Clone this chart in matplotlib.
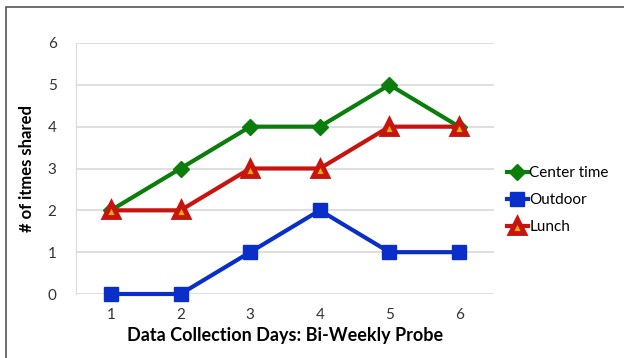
import matplotlib.pyplot as plt
from matplotlib.patches import Rectangle

days = [1, 2, 3, 4, 5, 6]
center_time = [2, 3, 4, 4, 5, 4]
outdoor = [0, 0, 1, 2, 1, 1]
lunch = [2, 2, 3, 3, 4, 4]

plt.rcParams['font.family'] = ['Lato', 'DejaVu Sans']

fig = plt.figure(figsize=(6.24, 3.58), dpi=100)
ax = fig.add_axes([76 / 624, 1 - 294 / 358, 418 / 624, 251 / 358])

# outer chart border
fig.patches.append(Rectangle((6 / 624, -0.1), 1.1, 1.1 - 7 / 358,
                             transform=fig.transFigure, fill=False,
                             edgecolor='#555555', linewidth=1.2))

ax.plot(days, center_time, color='#0b7d0b', lw=3, marker='D', ms=8,
        label='Center time', zorder=3, clip_on=False)
ax.plot(days, outdoor, color='#0a2fc8', lw=3, marker='s', ms=10,
        label='Outdoor', zorder=3, clip_on=False)
ax.plot(days, lunch, color='#c8140f', lw=3, marker='^', ms=10,
        markerfacecolor='#e8b000', markeredgecolor='#c8140f', markeredgewidth=3.5,
        label='Lunch', zorder=3, clip_on=False)

ax.set_xlim(0.5, 6.5)
ax.set_ylim(0, 6)
ax.set_xticks(days)
ax.set_yticks(range(0, 7))
ax.grid(axis='y', color='#d9d9d9', lw=1.2)
ax.set_axisbelow(True)
for s in ['top', 'right', 'bottom']:
    ax.spines[s].set_visible(False)
ax.spines['left'].set_color('#d9d9d9')
ax.tick_params(length=0, labelsize=11, colors='#333333', pad=10)
ax.tick_params(axis='y', pad=14)

ax.set_xlabel('Data Collection Days: Bi-Weekly Probe', fontsize=13,
              fontweight='bold', labelpad=4)
ax.set_ylabel('# of itmes shared', fontsize=12, fontweight='bold', labelpad=9)

ax.legend(loc='center left', bbox_to_anchor=(1.03, 0.375), frameon=False,
          fontsize=11, handlelength=1.4, handletextpad=0.1, labelspacing=0.85,
          borderaxespad=0, borderpad=0)

fig.savefig('out.png', dpi=100)
